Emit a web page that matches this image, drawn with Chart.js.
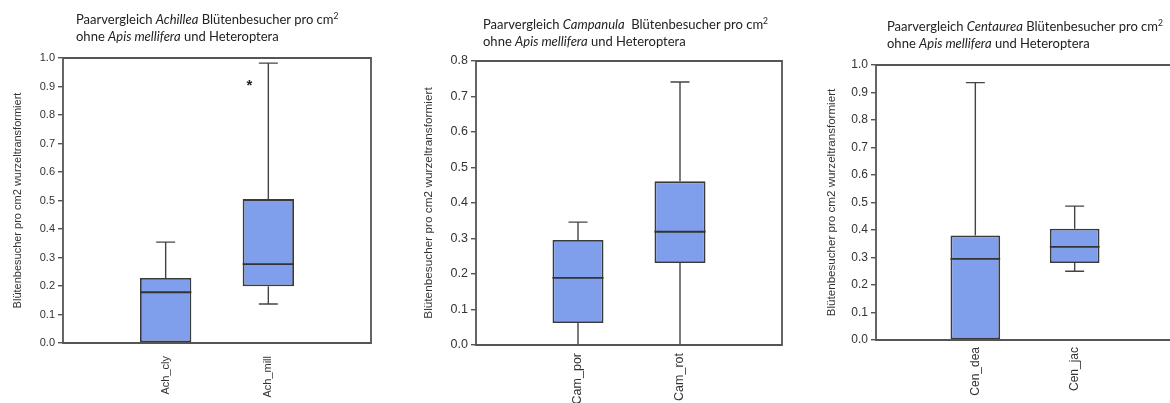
<!DOCTYPE html>
<html>
<head>
<meta charset="utf-8">
<script src="https://cdn.jsdelivr.net/npm/chart.js@4.4.1/dist/chart.umd.min.js"></script>
<style>
  html, body { margin: 0; padding: 0; background: #fff; width: 1170px; height: 403px; overflow: hidden; }
  .panel { position: absolute; top: 0; height: 403px; overflow: hidden; }
  .panel canvas { position: absolute; left: 0; top: 0; }
  .ttl { position: absolute; font-family: Lato, "Open Sans", sans-serif; font-size: 13px; color: #222; line-height: 17px; white-space: nowrap; z-index: 2; }
  .ttl sup { font-size: 8.5px; vertical-align: 5px; line-height: 0; }
</style>
</head>
<body>

<div class="panel" id="p1" style="left:0px;width:390px">
  <div class="ttl" style="left:76px;top:11px">Paarvergleich <i>Achillea</i> Blütenbesucher pro cm<sup>2</sup><br>ohne <i>Apis mellifera</i> und Heteroptera</div>
  <canvas id="c1" width="390" height="403"></canvas>
</div>
<div class="panel" id="p2" style="left:400px;width:390px">
  <div class="ttl" style="left:83px;top:16px">Paarvergleich <i>Campanula</i>&nbsp; Blütenbesucher pro cm<sup>2</sup><br>ohne <i>Apis mellifera</i> und Heteroptera</div>
  <canvas id="c2" width="390" height="403"></canvas>
</div>
<div class="panel" id="p3" style="left:790px;width:380px">
  <div class="ttl" style="left:97px;top:18px">Paarvergleich <i>Centaurea</i> Blütenbesucher pro cm<sup>2</sup><br>ohne <i>Apis mellifera</i> und Heteroptera</div>
  <canvas id="c3" width="400" height="403" style="width:400px;height:403px"></canvas>
</div>

<script>
// ---- Achillea ----
const achCategories = ['Ach_cly', 'Ach_mill'];
const achMin    = [0.0,   0.137];
const achQ1     = [0.0,   0.199];
const achMedian = [0.178, 0.277];
const achQ3     = [0.228, 0.505];
const achMax    = [0.354, 0.982];
const achStars  = [null,  0.912];
const achYMax   = 1.0;

// ---- Campanula ----
const camCategories = ['Cam_por', 'Cam_rot'];
const camMin    = [0.0,   0.0];
const camQ1     = [0.062, 0.231];
const camMedian = [0.189, 0.319];
const camQ3     = [0.296, 0.461];
const camMax    = [0.346, 0.741];
const camStars  = [null,  null];
const camYMax   = 0.8;

// ---- Centaurea ----
const cenCategories = ['Cen_dea', 'Cen_jac'];
const cenMin    = [0.0,   0.250];
const cenQ1     = [0.0,   0.280];
const cenMedian = [0.295, 0.339];
const cenQ3     = [0.380, 0.405];
const cenMax    = [0.936, 0.487];
const cenStars  = [null,  null];
const cenYMax   = 1.0;

const yTitle = 'Blütenbesucher pro cm2 wurzeltransformiert';
const tickStep = 0.1;

// Whiskers, caps, medians and star markers drawn on top of the floating-bar boxes
const boxPlotExtras = {
  id: 'boxPlotExtras',
  afterDatasetsDraw(chart) {
    const ctx = chart.ctx;
    const y = chart.scales.y;
    const st = chart.options.plugins.boxPlotExtras;
    const meta = chart.getDatasetMeta(0);
    ctx.save();
    meta.data.forEach((el, i) => {
      const k = i - 1; // first and last category slots are empty padding
      if (k < 0 || k >= st.median.length) return;
      const x = el.x, w = el.width;
      const cap = 19;
      ctx.strokeStyle = '#444';
      ctx.lineWidth = 1.4;
      ctx.beginPath();
      if (st.max[k] > st.q3[k]) {
        ctx.moveTo(x, y.getPixelForValue(st.q3[k]));
        ctx.lineTo(x, y.getPixelForValue(st.max[k]));
        ctx.moveTo(x - cap / 2, y.getPixelForValue(st.max[k]));
        ctx.lineTo(x + cap / 2, y.getPixelForValue(st.max[k]));
      }
      if (st.min[k] < st.q1[k]) {
        ctx.moveTo(x, y.getPixelForValue(st.q1[k]));
        ctx.lineTo(x, y.getPixelForValue(st.min[k]));
        ctx.moveTo(x - cap / 2, y.getPixelForValue(st.min[k]));
        ctx.lineTo(x + cap / 2, y.getPixelForValue(st.min[k]));
      }
      ctx.stroke();
      ctx.strokeStyle = '#333';
      ctx.lineWidth = 1.8;
      ctx.beginPath();
      ctx.moveTo(x - w / 2, y.getPixelForValue(st.median[k]));
      ctx.lineTo(x + w / 2, y.getPixelForValue(st.median[k]));
      ctx.stroke();
      if (st.stars[k] != null) {
        ctx.fillStyle = '#222';
        ctx.font = 'bold 15px "Liberation Sans", Arial, sans-serif';
        ctx.textAlign = 'center';
        ctx.textBaseline = 'middle';
        ctx.fillText('*', x - w * 0.37, y.getPixelForValue(st.stars[k]) + 3);
      }
    });
    ctx.restore();
  },
  afterDraw(chart) {
    // plot frame; the right side can be left off where the panel is cut by the page edge
    const a = chart.chartArea;
    const ctx = chart.ctx;
    const st = chart.options.plugins.boxPlotExtras;
    ctx.save();
    ctx.strokeStyle = '#555';
    ctx.lineWidth = 1.8;
    ctx.beginPath();
    ctx.moveTo(a.right, a.top);
    ctx.lineTo(a.left, a.top);
    ctx.lineTo(a.left, a.bottom);
    ctx.lineTo(a.right, a.bottom);
    if (st.frameRight) ctx.closePath();
    ctx.stroke();
    ctx.restore();
  }
};

function makePanel(canvasId, cats, mins, q1s, meds, q3s, maxs, stars, yMax, geo) {
  const labels = [''].concat(cats).concat(['']);
  const boxes = [null].concat(cats.map((c, i) => [q1s[i], q3s[i]])).concat([null]);
  const fontFam = '"Liberation Sans", Arial, sans-serif';
  return new Chart(document.getElementById(canvasId), {
    type: 'bar',
    data: {
      labels: labels,
      datasets: [{
        data: boxes,
        backgroundColor: '#7f9fec',
        borderColor: '#3a3a3a',
        borderWidth: 1.8,
        borderSkipped: false,
        barPercentage: 0.5,
        categoryPercentage: 1.0
      }]
    },
    options: {
      responsive: false,
      animation: false,
      layout: { padding: { top: geo.top, right: geo.right, left: 0, bottom: 0 } },
      plugins: {
        legend: { display: false },
        tooltip: { enabled: false },
        boxPlotExtras: { min: mins, q1: q1s, median: meds, q3: q3s, max: maxs, stars: stars, frameRight: geo.frameRight }
      },
      scales: {
        x: {
          offset: false,
          grid: { display: false, drawTicks: false },
          border: { display: false },
          ticks: {
            autoSkip: false,
            minRotation: 90, maxRotation: 90,
            padding: geo.xPad,
            color: '#333',
            font: { family: fontFam, size: geo.fs }
          },
          afterFit(s) { s.height = geo.xH; s.paddingLeft = 0; s.paddingRight = 0; }
        },
        y: {
          min: 0, max: yMax,
          grid: { drawOnChartArea: false, drawTicks: true, tickLength: 5, color: '#555', lineWidth: 1.4 },
          border: { display: false },
          ticks: {
            stepSize: tickStep,
            padding: 3,
            color: '#333',
            font: { family: fontFam, size: geo.fs },
            callback: v => Number(v).toFixed(1)
          },
          title: {
            display: true,
            text: yTitle,
            color: '#333',
            font: { family: fontFam, size: geo.tfs },
            padding: { top: geo.tPad, bottom: 0 }
          },
          afterFit(s) { s.width = geo.yW; }
        }
      }
    },
    plugins: [boxPlotExtras]
  });
}

makePanel('c1', achCategories, achMin, achQ1, achMedian, achQ3, achMax, achStars, achYMax,
  { top: 58, right: 19, yW: 63, xH: 60, xPad: 13, fs: 11, tfs: 11, tPad: 11.5, frameRight: true });
makePanel('c2', camCategories, camMin, camQ1, camMedian, camQ3, camMax, camStars, camYMax,
  { top: 61, right: 8, yW: 76, xH: 58, xPad: 8, fs: 12.5, tfs: 11.8, tPad: 21.5, frameRight: true });
makePanel('c3', cenCategories, cenMin, cenQ1, cenMedian, cenQ3, cenMax, cenStars, cenYMax,
  { top: 65, right: 16, yW: 86, xH: 63, xPad: 7, fs: 12, tfs: 11.6, tPad: 35, frameRight: false });
</script>
</body>
</html>
